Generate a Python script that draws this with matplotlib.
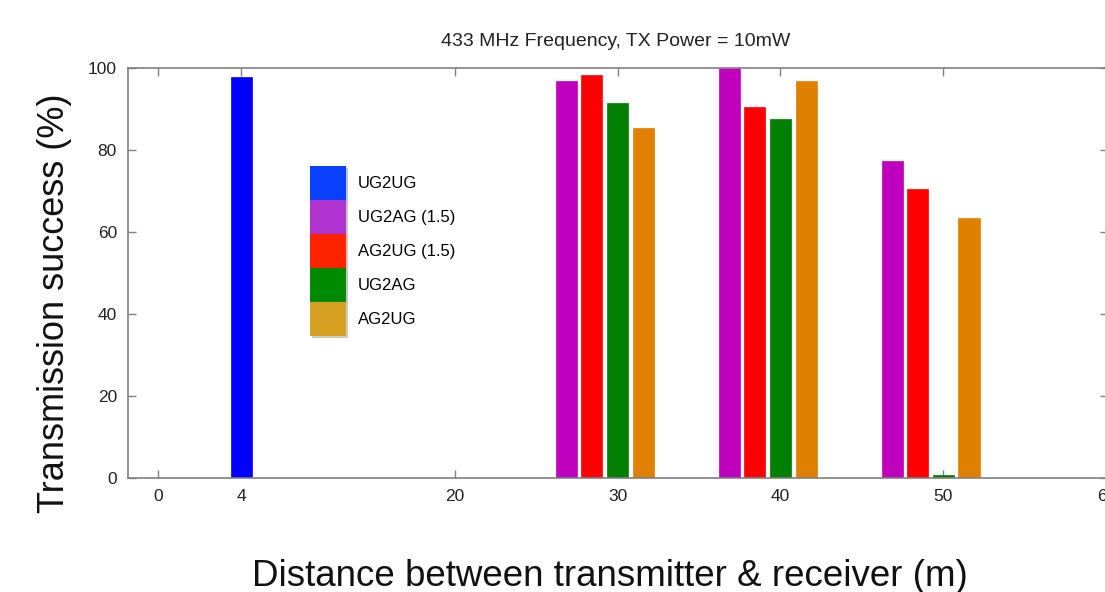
import matplotlib
matplotlib.use("Agg")
import matplotlib.pyplot as plt
import matplotlib.patheffects as pe
from matplotlib.patches import Patch

plt.rcParams['font.family'] = ['Liberation Sans', 'DejaVu Sans']

# tick positions on the axis and the labels written under them
tick_pos = [0, 5.1, 18.2, 28.2, 38.2, 48.2, 58.2]
tick_labels = ['0', '4', '20', '30', '40', '50', '60']

# series: (name, group positions, values)
series_names = ['UG2UG', 'UG2AG (1.5)', 'AG2UG (1.5)', 'UG2AG', 'AG2UG']
ug2ug_x = [5.1]
ug2ug = [97.8]
groups_x = [28.2, 38.2, 48.2]
ug2ag_15 = [96.9, 100.0, 77.3]
ag2ug_15 = [98.3, 90.6, 70.6]
ug2ag = [91.4, 87.6, 0.8]
ag2ug = [85.4, 96.9, 63.4]

bar_colors = ['#0000ff', '#bf00bf', '#ff0000', '#007f00', '#e08000']
legend_colors = ['#0a40ff', '#b035d0', '#ff2400', '#008a00', '#d6a020']

slot = 1.57
width = 1.29

fig = plt.figure(figsize=(11.05, 5.92), dpi=100)
ax = fig.add_axes([128 / 1105, 1 - 478 / 592, 980 / 1105, 410 / 592])
ax.set_axisbelow(True)

ax.bar(ug2ug_x, ug2ug, width, color=bar_colors[0], edgecolor=bar_colors[0], linewidth=0.5)
for vals, off, c in [(ug2ag_15, -2, bar_colors[1]), (ag2ug_15, -1, bar_colors[2]),
                     (ug2ag, 0, bar_colors[3]), (ag2ug, 1, bar_colors[4])]:
    ax.bar([g + off * slot for g in groups_x], vals, width, color=c, edgecolor=c, linewidth=0.5)

ax.set_xlim(-1.84, 58.3)
ax.set_ylim(0, 100)
ax.set_xticks(tick_pos)
ax.set_xticklabels(tick_labels)
ax.set_yticks([0, 20, 40, 60, 80, 100])
ax.tick_params(direction='in', length=6, width=1, color='#808080', labelsize=12.5,
               labelcolor='#222222', top=True, right=True, pad=8)
for s in ax.spines.values():
    s.set_color('#808080')
    s.set_linewidth(1.2)

fig.text(616 / 1105, 1 - 42 / 592, '433 MHz Frequency, TX Power = 10mW',
         ha='center', va='center', fontsize=14, color='#222222')
fig.text(55 / 1105, 1 - 303 / 592, 'Transmission success (%)', rotation=90,
         ha='center', va='center', fontsize=26, color='#111111')
fig.text(610 / 1105, 1 - 576 / 592, 'Distance between transmitter & receiver (m)',
         ha='center', va='center', fontsize=26.5, color='#111111')

handles = [Patch(facecolor=c, edgecolor='none') for c in legend_colors]
leg = fig.legend(handles, series_names, loc='upper left',
                 bbox_to_anchor=(310 / 1105, 1 - 166 / 592), bbox_transform=fig.transFigure,
                 frameon=False, fontsize=12, handlelength=2.16, handleheight=2.76,
                 labelspacing=0.0, handletextpad=0.72, borderpad=0, borderaxespad=0)
for p in leg.get_patches():
    p.set_path_effects([pe.withSimplePatchShadow(offset=(1.5, -1.5), alpha=0.25)])

fig.savefig('out.png', dpi=100)
